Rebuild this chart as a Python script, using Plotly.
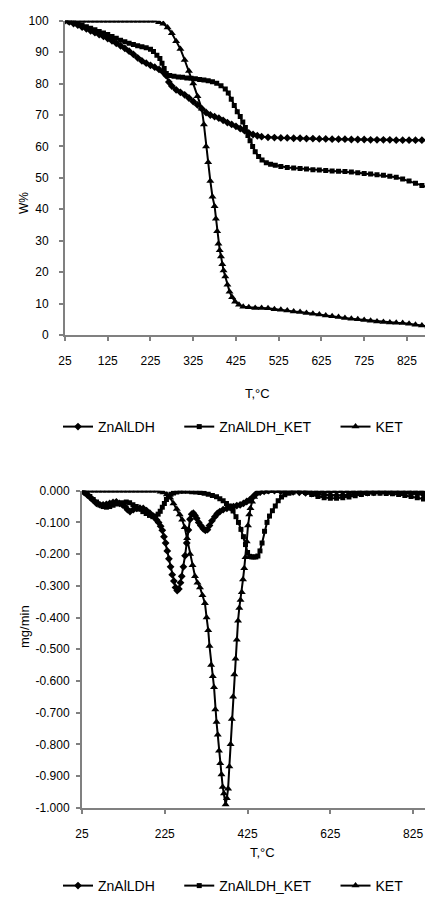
import plotly.graph_objects as go

# ---------------- TG data (top chart) ----------------
tg_zn_T = [25, 35, 45, 55, 65, 75, 85, 95, 105, 115, 125, 135, 145, 155, 165, 175, 185, 195, 205, 215,
           225, 235, 245, 255, 262, 268, 275, 285, 295, 305, 315, 325, 335, 345, 355, 365, 375, 385, 395,
           405, 415, 425, 435, 445, 455, 465, 475, 485, 500, 515, 530, 545, 560, 575, 590, 605, 620, 635,
           650, 665, 680, 695, 710, 725, 740, 755, 770, 785, 800, 815, 830, 845, 860, 875, 885]
tg_zn_W = [100, 99.6, 99.1, 98.6, 98.0, 97.4, 96.8, 96.2, 95.6, 95.0, 94.3, 93.6, 92.8, 92.0, 91.2, 90.3,
           89.3, 88.2, 87.2, 86.5, 85.8, 85.2, 84.5, 83.6, 82.5, 80.5, 79.2, 78.0, 77.2, 76.4, 75.4, 74.3,
           73.2, 72.0, 70.8, 70.0, 69.5, 69.0, 68.3, 67.6, 67.0, 66.4, 65.7, 65.0, 64.3, 63.8, 63.4, 63.1,
           62.9, 62.8, 62.7, 62.7, 62.6, 62.6, 62.5, 62.5, 62.4, 62.4, 62.3, 62.3, 62.3, 62.2, 62.2, 62.2,
           62.1, 62.1, 62.1, 62.1, 62.0, 62.0, 62.0, 62.0, 62.0, 61.9, 61.9]

tg_znket_T = [25, 35, 45, 55, 65, 75, 85, 95, 105, 115, 125, 135, 145, 155, 165, 175, 185, 195, 205, 215,
              225, 232, 240, 247, 252, 257, 262, 270, 280, 290, 300, 310, 320, 330, 340, 350, 360, 370,
              380, 390, 400, 407, 414, 421, 428, 435, 441, 447, 453, 458, 464, 470, 478, 486, 496, 506,
              517, 530, 545, 560, 575, 590, 605, 620, 635, 650, 665, 680, 695, 710, 725, 740, 755, 770,
              785, 800, 815, 830, 845, 860, 875, 885]
tg_znket_W = [100, 99.7, 99.4, 99.0, 98.6, 98.1, 97.6, 97.1, 96.6, 96.1, 95.6, 95.0, 94.4, 93.8, 93.3,
              92.8, 92.4, 92.0, 91.7, 91.4, 90.9, 90.2, 89.0, 88.0, 86.5, 84.8, 83.2, 82.6, 82.3, 82.1,
              82.0, 81.8, 81.7, 81.5, 81.3, 81.1, 80.9, 80.6, 80.1, 79.3, 78.3, 77.0, 75.0, 73.0, 71.0,
              69.5, 67.8, 66.0, 63.5, 61.8, 60.0, 58.3, 56.8, 55.7, 54.8, 54.3, 54.0, 53.6, 53.3, 53.1,
              53.0, 52.8, 52.6, 52.5, 52.3, 52.2, 52.1, 52.0, 51.9, 51.6, 51.4, 51.2, 51.0, 50.8, 50.5,
              50.2, 49.6, 49.0, 48.3, 47.6, 46.9, 46.5]

tg_ket_T = [25, 35, 45, 55, 65, 75, 85, 95, 105, 115, 125, 135, 145, 155, 165, 175, 185, 195, 205, 215,
            225, 235, 245, 255, 265, 275, 285, 295, 305, 315, 325, 335, 345, 350, 355, 360, 365, 370, 375,
            378, 381, 384, 387, 390, 393, 396, 400, 405, 410, 416, 423, 432, 442, 455, 470, 485, 500, 515,
            530, 545, 560, 575, 590, 605, 620, 635, 650, 665, 680, 695, 710, 725, 740, 755, 770, 785, 800,
            815, 830, 845, 860, 875, 885]
tg_ket_W = [100, 100, 100, 100, 100, 100, 100, 100, 100, 100, 100, 100, 100, 100, 100, 100, 100, 100, 100,
            100, 100, 100, 99.5, 99.0, 97.8, 96.0, 93.5, 91.0, 87.5, 84.0, 80.0, 76.0, 72.0, 67.0, 60.0,
            55.0, 49.0, 44.0, 41.0, 37.0, 33.0, 29.0, 27.0, 25.0, 22.5, 20.5, 18.6, 16.0, 13.8, 12.0, 10.6,
            9.6, 9.0, 8.8, 8.6, 8.6, 8.5, 8.2, 8.0, 7.8, 7.5, 7.3, 7.0, 6.8, 6.5, 6.2, 6.0, 5.7, 5.4, 5.2,
            5.0, 4.8, 4.5, 4.3, 4.1, 4.0, 3.9, 3.8, 3.6, 3.3, 3.0, 2.7, 2.5]

# ---------------- DTG data (bottom chart) ----------------
dtg_zn_T = [25, 30, 37, 44, 52, 60, 68, 76, 84, 92, 100, 108, 116, 123, 129, 135, 141, 149, 157, 165, 173,
            181, 189, 197, 205, 210, 215, 219, 223, 227, 231, 235, 239, 243, 247, 251, 255, 259, 263, 266,
            270, 274, 278, 282, 286, 290, 294, 298, 302, 307, 312, 318, 323, 328, 333, 339, 346, 352, 358,
            366, 375, 383, 391, 399, 407, 415, 423, 431, 439, 447, 456, 465, 475, 490, 505, 520, 535, 550,
            565, 580, 595, 610, 625, 640, 655, 670, 685, 700, 715, 730, 745, 760, 775, 790, 805, 820, 835,
            850, 865, 872]
dtg_zn_V = [0.0, -0.005, -0.012, -0.02, -0.03, -0.04, -0.044, -0.045, -0.043, -0.04, -0.037, -0.035, -0.04,
            -0.045, -0.05, -0.06, -0.066, -0.06, -0.056, -0.055, -0.056, -0.063, -0.071, -0.08, -0.092, -0.1,
            -0.112, -0.125, -0.145, -0.165, -0.19, -0.215, -0.24, -0.265, -0.285, -0.305, -0.315, -0.31,
            -0.29, -0.27, -0.24, -0.205, -0.165, -0.124, -0.09, -0.074, -0.071, -0.078, -0.087, -0.1, -0.11,
            -0.12, -0.125, -0.123, -0.11, -0.095, -0.082, -0.072, -0.066, -0.06, -0.056, -0.053, -0.05,
            -0.047, -0.045, -0.04, -0.034, -0.028, -0.018, -0.008, -0.004, -0.002, 0.0, 0.0, -0.002, -0.003,
            -0.004, -0.005, -0.007, -0.009, -0.011, -0.013, -0.014, -0.015, -0.014, -0.012, -0.01, -0.008,
            -0.006, -0.005, -0.004, -0.004, -0.005, -0.006, -0.007, -0.008, -0.01, -0.012, -0.014, -0.015]

dtg_znket_T = [25, 30, 37, 44, 52, 60, 68, 76, 84, 92, 100, 108, 116, 124, 132, 140, 148, 156, 164, 172,
               180, 188, 196, 203, 209, 214, 219, 224, 229, 234, 240, 246, 254, 262, 270, 280, 290, 300,
               310, 320, 330, 340, 350, 358, 366, 374, 382, 390, 397, 403, 409, 415, 420, 425, 430, 435,
               440, 445, 450, 455, 460, 466, 472, 478, 485, 492, 499, 507, 515, 525, 535, 550, 565, 580,
               595, 610, 625, 640, 655, 670, 685, 700, 715, 730, 745, 760, 775, 790, 805, 820, 835, 850,
               865, 872]
dtg_znket_V = [0.0, -0.004, -0.01, -0.018, -0.028, -0.036, -0.045, -0.05, -0.052, -0.05, -0.046, -0.042,
               -0.04, -0.038, -0.036, -0.038, -0.044, -0.05, -0.058, -0.066, -0.072, -0.078, -0.082, -0.08,
               -0.074, -0.065, -0.052, -0.04, -0.028, -0.018, -0.011, -0.007, -0.004, -0.002, -0.002,
               -0.002, -0.003, -0.004, -0.006, -0.008, -0.011, -0.015, -0.019, -0.025, -0.032, -0.04,
               -0.048, -0.064, -0.082, -0.1, -0.122, -0.145, -0.17, -0.195, -0.207, -0.209, -0.209, -0.209,
               -0.206, -0.19, -0.165, -0.128, -0.1, -0.08, -0.063, -0.048, -0.032, -0.02, -0.013, -0.008,
               -0.004, -0.002, -0.006, -0.012, -0.018, -0.022, -0.024, -0.024, -0.022, -0.02, -0.016,
               -0.012, -0.009, -0.008, -0.008, -0.009, -0.01, -0.012, -0.015, -0.018, -0.022, -0.026,
               -0.03, -0.032]

dtg_ket_T = [25, 35, 45, 55, 65, 75, 85, 95, 105, 115, 125, 135, 145, 155, 165, 175, 185, 195, 205, 215,
             222, 230, 238, 246, 254, 261, 267, 273, 279, 286, 292, 298, 304, 310, 316, 322, 326, 330, 333,
             337, 341, 344, 347, 350, 353, 356, 359, 362, 365, 368, 372, 375, 378, 381, 384, 387, 390, 393,
             396, 399, 402, 405, 408, 411, 414, 417, 420, 423, 426, 429, 432, 436, 441, 448, 458, 470, 485,
             500, 515, 530, 545, 560, 575, 590, 605, 620, 635, 650, 665, 680, 695, 710, 725, 740, 755, 770,
             785, 800, 815, 830, 845, 860, 872]
dtg_ket_V = [0.0, 0.0, 0.0, 0.0, 0.0, 0.0, 0.0, 0.0, 0.0, 0.0, 0.0, 0.0, 0.0, 0.0, 0.0, 0.0, 0.0, 0.0, 0.0,
             -0.003, -0.006, -0.012, -0.022, -0.04, -0.058, -0.075, -0.092, -0.115, -0.15, -0.2, -0.235,
             -0.27, -0.29, -0.305, -0.33, -0.355, -0.4, -0.44, -0.49, -0.55, -0.585, -0.62, -0.69, -0.73,
             -0.77, -0.82, -0.86, -0.895, -0.935, -0.955, -0.99, -0.97, -0.94, -0.87, -0.8, -0.72, -0.65,
             -0.58, -0.53, -0.47, -0.41, -0.37, -0.345, -0.32, -0.28, -0.245, -0.21, -0.16, -0.11, -0.075,
             -0.055, -0.035, -0.02, -0.01, -0.005, -0.003, -0.002, -0.002, -0.002, -0.002, -0.002, -0.002,
             -0.002, -0.002, -0.002, -0.002, -0.002, -0.002, -0.002, -0.002, -0.002, -0.002, -0.002, -0.002,
             -0.002, -0.002, -0.002, -0.002, -0.002, -0.002, -0.002, -0.002, -0.002]

# ---------------- tick labels ----------------
top_xticks = [25, 125, 225, 325, 425, 525, 625, 725, 825]
top_yticks = [0, 10, 20, 30, 40, 50, 60, 70, 80, 90, 100]
bot_xticks = [25, 225, 425, 625, 825]
bot_yticks = [0.0, -0.1, -0.2, -0.3, -0.4, -0.5, -0.6, -0.7, -0.8, -0.9, -1.0]
bot_yticktext = ["0.000", "-0.100", "-0.200", "-0.300", "-0.400", "-0.500", "-0.600", "-0.700",
                 "-0.800", "-0.900", "-1.000"]

names = ["ZnAlLDH", "ZnAlLDH_KET", "KET"]
pad = ["\u00a0" * 5, "\u00a0" * 5, ""]
symbols = ["diamond", "square", "triangle-up"]
msizes = [6, 5, 7]

FONT = "Liberation Sans, Arial, sans-serif"
fig = go.Figure()

tg = [(tg_zn_T, tg_zn_W), (tg_znket_T, tg_znket_W), (tg_ket_T, tg_ket_W)]
dtg = [(dtg_zn_T, dtg_zn_V), (dtg_znket_T, dtg_znket_V), (dtg_ket_T, dtg_ket_V)]

for (x, y), n, p, s, ms in zip(tg, names, pad, symbols, msizes):
    fig.add_trace(go.Scatter(x=x, y=y, name=n + p, mode="lines+markers", xaxis="x", yaxis="y",
                             line=dict(color="black", width=2),
                             marker=dict(symbol=s, size=ms, color="black"), legend="legend"))
for (x, y), n, p, s, ms in zip(dtg, names, pad, symbols, msizes):
    fig.add_trace(go.Scatter(x=x, y=y, name=n + p, mode="lines+markers", xaxis="x2", yaxis="y2",
                             line=dict(color="black", width=2),
                             marker=dict(symbol=s, size=ms, color="black"), legend="legend2"))

# page body has an 8px margin: figure is drawn 8px right / down of the window corner
OFF = 8
W, H = 433 - OFF, 900 - OFF


def px(x):
    return (x - OFF) / W


def py(y):
    return 1 - (y - OFF) / H


axis_common = dict(showgrid=False, zeroline=False, showline=True, linecolor="#808080", linewidth=2,
                   ticks="outside", tickcolor="#808080", ticklen=4, tickwidth=1.5, automargin=False,
                   tickfont=dict(family=FONT, size=12, color="black"))

fig.update_layout(
    width=W, height=H, margin=dict(l=0, r=0, t=0, b=0, autoexpand=False),
    paper_bgcolor="white", plot_bgcolor="white", font=dict(family=FONT, color="black"),
    xaxis=dict(domain=[px(65), 1], range=[25, 886], tickvals=top_xticks, anchor="y",
               ticklabelstandoff=10, **axis_common),
    yaxis=dict(domain=[py(335), py(20.7)], range=[0, 100], tickvals=top_yticks, anchor="x",
               ticklabelstandoff=8, **axis_common),
    xaxis2=dict(domain=[px(82), 1], range=[25, 873], tickvals=bot_xticks, anchor="y2",
                ticklabelstandoff=10, **axis_common),
    yaxis2=dict(domain=[py(807.7), py(490.7)], range=[-1.0, 0.0], tickvals=bot_yticks,
                ticktext=bot_yticktext, anchor="x2", ticklabelstandoff=4, **axis_common),
    legend=dict(orientation="h", x=px(58), xanchor="left", y=py(427), yanchor="middle",
                font=dict(family=FONT, size=14, color="black"), itemwidth=30, bgcolor="rgba(0,0,0,0)"),
    legend2=dict(orientation="h", x=px(58), xanchor="left", y=py(886), yanchor="middle",
                 font=dict(family=FONT, size=14, color="black"), itemwidth=30, bgcolor="rgba(0,0,0,0)"),
    annotations=[
        dict(text="W%", x=px(15), y=py(190), xref="paper", yref="paper", showarrow=False,
             textangle=-90, font=dict(family=FONT, size=12)),
        dict(text="mg/min", x=px(15), y=py(650), xref="paper", yref="paper", showarrow=False,
             textangle=-90, font=dict(family=FONT, size=13)),
        dict(text="T,°C", x=px(257), y=py(393), xref="paper", yref="paper", showarrow=False,
             font=dict(family=FONT, size=13)),
        dict(text="T,°C", x=px(262), y=py(862), xref="paper", yref="paper", showarrow=False,
             font=dict(family=FONT, size=13)),
    ],
)

fig.write_html("out.html")
